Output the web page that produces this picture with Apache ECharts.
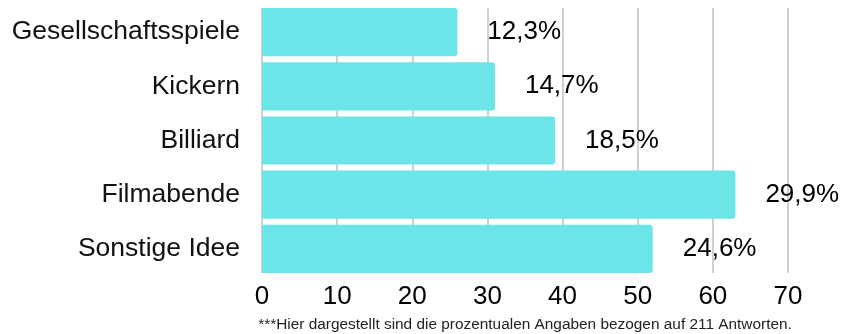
<!DOCTYPE html>
<html>
<head>
<meta charset="utf-8">
<script src="https://cdn.jsdelivr.net/npm/echarts@6/dist/echarts.min.js"></script>
<style>
  html, body { margin: 0; padding: 0; background: #fff; }
  #chart { width: 843px; height: 334px; }
</style>
</head>
<body>
<div id="chart"></div>
<script>
// answer counts per idea (bars), label shows share of 211 answers
const categories = ['Gesellschaftsspiele', 'Kickern', 'Billiard', 'Filmabende', 'Sonstige Idee']
const counts = [26, 31, 39, 63, 52]
const percentLabels = ['12,3%', '14,7%', '18,5%', '29,9%', '24,6%']
const xTicks = [0, 10, 20, 30, 40, 50, 60, 70]
const footnote = '***Hier dargestellt sind die prozentualen Angaben bezogen auf 211 Antworten.'

const font = '"Liberation Sans", Arial, sans-serif'
const barColor = '#6be5e8'
const xMin = xTicks[0]
const xMax = xTicks[xTicks.length - 1]

const chart = echarts.init(document.getElementById('chart'))
chart.setOption({
  animation: false,
  textStyle: { fontFamily: font },
  grid: [
    // bars: bands run a half gap past the grid lines
    { left: 262, right: 55, top: 5, bottom: 58 },
    // grid lines + tick labels only
    { left: 262, right: 55, top: 8, bottom: 61 }
  ],
  xAxis: [{
    type: 'value',
    gridIndex: 0,
    min: xMin,
    max: xMax,
    interval: 10,
    show: false
  }, {
    type: 'value',
    gridIndex: 1,
    min: xMin,
    max: xMax,
    interval: 10,
    axisLine: { show: false },
    axisTick: { show: false },
    axisLabel: { color: '#000', fontSize: 26, margin: 11, fontFamily: font },
    splitLine: { lineStyle: { color: '#c0c0c0', width: 1.5 } }
  }],
  yAxis: [{
    type: 'category',
    gridIndex: 0,
    data: categories,
    inverse: true,
    axisLine: { show: false },
    axisTick: { show: false },
    axisLabel: { color: '#111', fontSize: 26.5, margin: 22, fontFamily: font }
  }, {
    type: 'category',
    gridIndex: 1,
    data: categories,
    show: false
  }],
  series: [{
    type: 'bar',
    xAxisIndex: 0,
    yAxisIndex: 0,
    data: counts,
    z: 3,
    barCategoryGap: '11%',
    itemStyle: { color: barColor, borderRadius: [0, 3, 3, 0] },
    label: {
      show: true,
      position: 'right',
      distance: 30,
      color: '#000',
      fontSize: 26,
      fontFamily: font,
      formatter: p => percentLabels[p.dataIndex]
    }
  }],
  graphic: [{
    type: 'text',
    x: 525,
    y: 317.5,
    style: { text: footnote, fill: '#222', fontSize: 15.4, fontFamily: font, align: 'center' }
  }]
})
</script>
</body>
</html>
